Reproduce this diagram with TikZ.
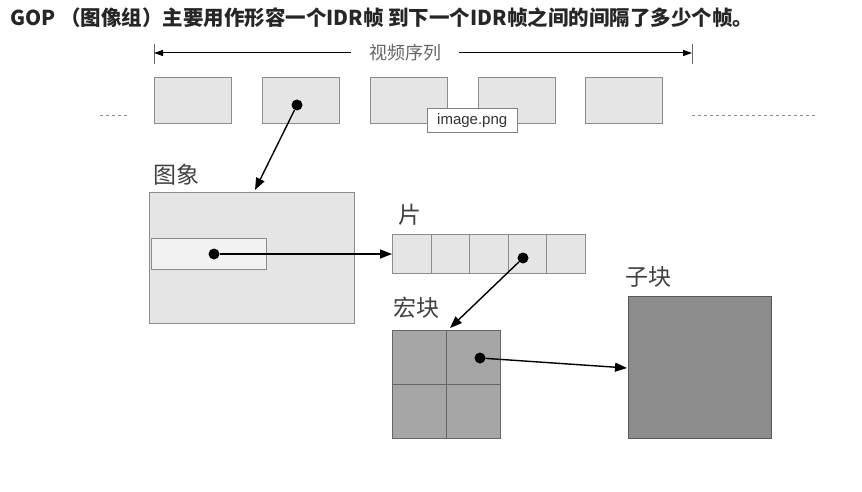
\documentclass[tikz,border=0pt]{standalone}
\usepackage{fontspec}
\newfontfamily\cjk{Noto Sans CJK SC}
\usetikzlibrary{arrows.meta}
\begin{document}
\begin{tikzpicture}[x=1pt,y=-1pt,
  frame/.style={draw=black!45,fill=black!10,line width=1pt},
  lbl/.style={font=\cjk\fontsize{23}{23}\selectfont,text=black!75,inner sep=0pt},
  conn/.style={line width=1.4pt,-{Triangle[length=12pt,width=9pt]}},
  dotc/.style={circle,fill=black,inner sep=0pt,minimum size=11pt}]
\useasboundingbox (0,0) rectangle (862,492);
\node[anchor=west,font=\cjk\bfseries\fontsize{20.5}{20.5}\selectfont,inner sep=0pt,text=black!85] (title) at (10,18) {GOP （图像组）主要用作形容一个IDR帧 到下一个IDR帧之间的间隔了多少个帧。};
% sequence arrow
\coordinate (sl) at (154,53); \coordinate (sr) at (692,53);
\draw[black!60] (154,44) -- (154,64) (692,44) -- (692,64);
\node[lbl,font=\cjk\fontsize{18}{18}\selectfont,text=black!60,fill=white,inner xsep=18pt] (seq) at (405,53) {视频序列};
\draw[conn,line width=1pt,-{Triangle[length=9pt,width=6pt]}] (seq.west) -- (sl);
\draw[conn,line width=1pt,-{Triangle[length=9pt,width=6pt]}] (seq.east) -- (sr);
\foreach \i/\x in {1/154,2/262,3/370,4/478,5/585}
  \node[frame,anchor=north west,minimum width=77pt,minimum height=46pt,inner sep=0pt] (f\i) at (\x,77) {};
\draw[black!45,dashed] (100,115) -- (128,115) (692,115) -- (815,115);
% picture
\node[lbl] (tpic) at (176,175) {图象};
\node[frame,anchor=north west,minimum width=205pt,minimum height=131pt,inner sep=0pt] (pic) at (149,192) {};
\node[draw=black!45,fill=black!5,anchor=north west,minimum width=115pt,minimum height=31pt,inner sep=0pt] (row) at (151,238) {};
\node[dotc] (d1) at (297,105) {};
\coordinate (a1) at (255,190);
\draw[conn] (d1) -- (a1);
% slice
\node[lbl] (tsl) at (410,215) {片};
\foreach \i in {0,...,4}
  \node[frame,anchor=north west,minimum width=38.6pt,minimum height=39pt,inner sep=0pt] (c\i) at (392+38.6*\i,234) {};
\node[dotc] (d2) at (214,254) {};
\draw[conn] (d2) -- (c0.west);
% macroblock
\node[lbl] (tmb) at (416,308) {宏块};
\foreach \i/\x/\y in {1/392/330,2/446/330,3/392/384,4/446/384}
  \node[draw=black!60,fill=black!35,line width=1pt,anchor=north west,minimum width=54pt,minimum height=54pt,inner sep=0pt] (m\i) at (\x,\y) {};
\node[dotc] (d3) at (523,258) {};
\coordinate (a3) at (450,328);
\draw[conn] (d3) -- (a3);
% subblock
\node[lbl] (tsb) at (648,277) {子块};
\node[draw=black!65,fill=black!45,line width=1pt,anchor=north west,minimum width=143pt,minimum height=142pt,inner sep=0pt] (sb) at (628,296) {};
\node[dotc] (d4) at (480,358) {};
\coordinate (a4) at (627,368);
\draw[conn] (d4) -- (a4);
% tooltip
\node[draw=black!50,fill=white,font=\fontspec{Liberation Sans}\fontsize{15}{15}\selectfont,anchor=north west,inner sep=3pt,minimum height=24pt,minimum width=90pt,text=black!80] (tip) at (427,108) {image.png};
\end{tikzpicture}
\end{document}
